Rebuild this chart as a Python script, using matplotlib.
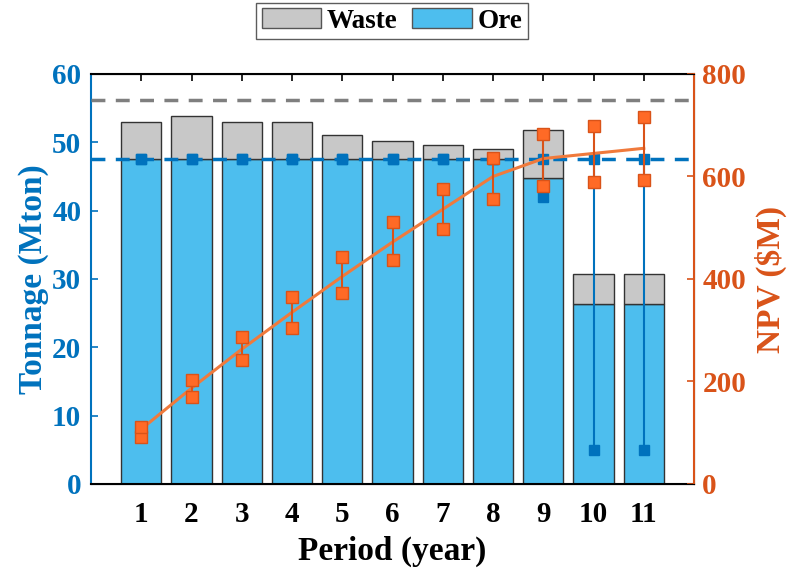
import numpy as np
import matplotlib.pyplot as plt
from matplotlib.patches import Patch

# Period index and tonnages
periods = np.arange(1, 12)
ore = [47.5, 47.5, 47.5, 47.5, 47.5, 47.5, 47.5, 47.5, 44.8, 26.4, 26.4]
total = [53.0, 53.8, 53.0, 53.0, 51.0, 50.2, 49.6, 49.0, 51.8, 30.8, 30.8]
waste = [t - o for t, o in zip(total, ore)]

# Ore tonnage range (min / max over scenarios)
ore_min = [47.5, 47.5, 47.5, 47.5, 47.5, 47.5, 47.5, 47.5, 42.0, 5.0, 5.0]
ore_max = [47.5, 47.5, 47.5, 47.5, 47.5, 47.5, 47.5, 47.5, 47.5, 47.5, 47.5]

# Capacities
ore_cap = 47.5
total_cap = 56.2

# NPV ($M): expected curve and min / max bounds
npv_mean = [107, 187, 263, 335, 405, 472, 536, 600, 635, 645, 655]
npv_min = [91, 170, 241, 305, 373, 437, 497, 557, 582, 589, 593]
npv_max = [112, 203, 287, 365, 442, 512, 575, 637, 683, 699, 717]

BLUE = '#0072BD'
ORE_C = '#4DBEEE'
WASTE_C = '#C8C8C8'
ORANGE = '#D95319'
ORANGE_M = '#FF6A26'

plt.rcParams['font.family'] = ['Liberation Serif', 'DejaVu Serif']
plt.rcParams['font.weight'] = 'bold'

fig = plt.figure(figsize=(7.92, 5.7), dpi=100)
ax = fig.add_axes([0.1149, 0.1509, 0.7614, 0.7193])

ax.bar(periods, ore, width=0.8, color=ORE_C, edgecolor='#333333', linewidth=1.0, zorder=2)
ax.bar(periods, waste, bottom=ore, width=0.8, color=WASTE_C, edgecolor='#333333', linewidth=1.0, zorder=2)

ax.axhline(total_cap, color='#7F7F7F', linestyle=(0, (4, 3)), linewidth=2.5, zorder=3)
ax.axhline(ore_cap, color=BLUE, linestyle=(0, (4, 3)), linewidth=2.5, zorder=3)

ax.vlines(periods, ore_min, ore_max, color=BLUE, linewidth=1.5, zorder=4)
ax.plot(periods, ore_min, 's', color=BLUE, markersize=7, zorder=5)
ax.plot(periods, ore_max, 's', color=BLUE, markersize=7, zorder=5)

ax.set_xlim(0, 12)
ax.set_ylim(0, 60)
ax.set_xticks(periods)
ax.set_yticks(np.arange(0, 61, 10))
ax.tick_params(axis='x', direction='in', top=True, length=5, width=1.2, labelsize=21, pad=12)
ax.tick_params(axis='y', direction='in', length=5, width=1.2, colors=BLUE, labelsize=21, pad=7)
ax.set_xlabel('Period (year)', fontsize=24, fontweight='bold', labelpad=6)
ax.set_ylabel('Tonnage (Mton)', fontsize=24, fontweight='bold', color=BLUE, labelpad=2)
ax.spines['left'].set_color(BLUE)
ax.spines['left'].set_linewidth(1.5)
ax.spines['bottom'].set_linewidth(1.5)
ax.spines['top'].set_linewidth(1.5)

ax2 = ax.twinx()
ax2.plot(periods, npv_mean, color='#F07A3C', linewidth=2.2, zorder=5)
ax2.vlines(periods, npv_min, npv_max, color=ORANGE, linewidth=1.5, zorder=5)
ax2.plot(periods, npv_min, 's', color=ORANGE_M, markeredgecolor=ORANGE, markersize=8, zorder=6)
ax2.plot(periods, npv_max, 's', color=ORANGE_M, markeredgecolor=ORANGE, markersize=8, zorder=6)
ax2.set_ylim(0, 800)
ax2.set_yticks(np.arange(0, 801, 200))
ax2.tick_params(axis='y', direction='in', length=5, width=1.2, colors=ORANGE, labelsize=21, pad=6)
ax2.set_ylabel('NPV ($M)', fontsize=24, fontweight='bold', color=ORANGE, labelpad=6)
ax2.spines['right'].set_color(ORANGE)
ax2.spines['right'].set_linewidth(1.5)
ax2.spines['left'].set_visible(False)

handles = [Patch(facecolor=WASTE_C, edgecolor='#555555', label='Waste'),
           Patch(facecolor=ORE_C, edgecolor='#555555', label='Ore')]
fig.legend(handles=handles, loc='upper center', bbox_to_anchor=(0.495, 0.995), ncol=2,
           fontsize=19.5, frameon=True, fancybox=False, edgecolor='#333333',
           handlelength=2.2, handleheight=0.75, handletextpad=0.2, columnspacing=0.55,
           borderpad=0.2, borderaxespad=0.0)

fig.savefig('out.png', dpi=100)
